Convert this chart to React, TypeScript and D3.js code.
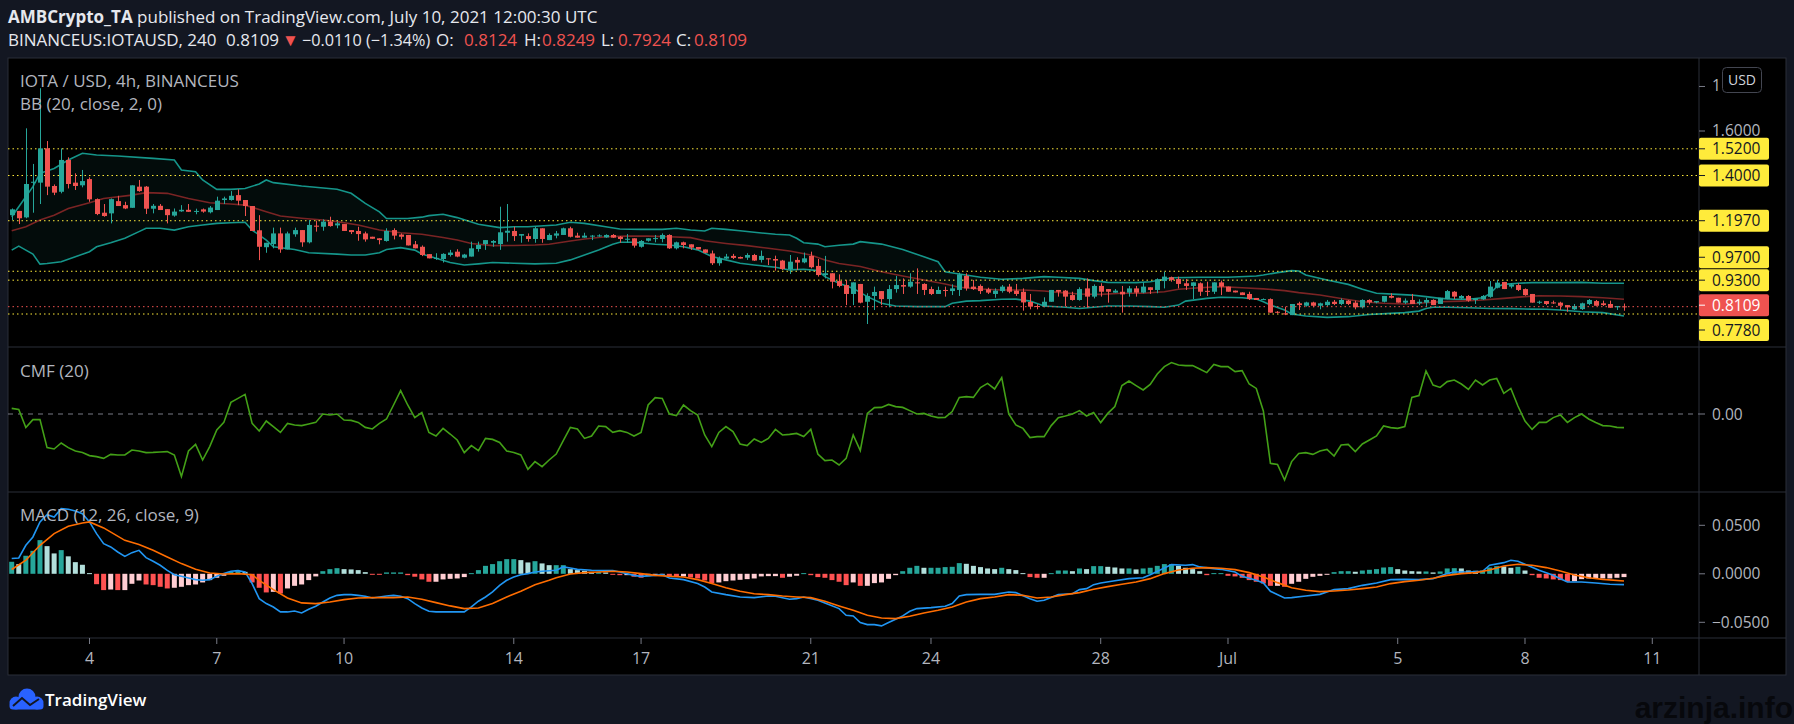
import * as d3 from 'd3';
import { useEffect, useRef } from 'react';

// IOTA/USD 4h candles (index 0 = Jun 2 04:00 UTC)
const opens = [
  1.222, 1.241, 1.212, 1.368, 1.368, 1.522, 1.353, 1.327, 1.47, 1.368,
  1.356, 1.384, 1.294, 1.233, 1.23, 1.285, 1.267, 1.255, 1.35, 1.35,
  1.251, 1.264, 1.249, 1.22, 1.239, 1.246, 1.24, 1.248, 1.235, 1.245,
  1.29, 1.29, 1.312, 1.29, 1.263, 1.154, 1.078, 1.092, 1.14, 1.068,
  1.136, 1.155, 1.1, 1.175, 1.17, 1.193, 1.176, 1.182, 1.155, 1.151,
  1.14, 1.125, 1.118, 1.106, 1.155, 1.135, 1.133, 1.091, 1.08, 1.047,
  1.028, 1.025, 1.043, 1.058, 1.031, 1.036, 1.07, 1.092, 1.098, 1.092,
  1.143, 1.151, 1.13, 1.128, 1.115, 1.163, 1.11, 1.13, 1.133, 1.163,
  1.13, 1.121, 1.128, 1.13, 1.122, 1.133, 1.125, 1.114, 1.118, 1.08,
  1.107, 1.118, 1.115, 1.133, 1.073, 1.1, 1.091, 1.079, 1.068, 1.05,
  1.006, 1.027, 1.039, 1.034, 1.031, 1.043, 1.021, 1.028, 1.025, 1.018,
  0.98, 1.021, 1.01, 1.039, 0.994, 0.953, 0.961, 0.926, 0.908, 0.868,
  0.913, 0.833, 0.859, 0.881, 0.845, 0.89, 0.908, 0.901, 0.92, 0.913,
  0.89, 0.868, 0.886, 0.881, 0.886, 0.949, 0.901, 0.904, 0.889, 0.868,
  0.881, 0.901, 0.883, 0.878, 0.832, 0.814, 0.811, 0.833, 0.886, 0.883,
  0.863, 0.841, 0.893, 0.856, 0.904, 0.89, 0.874, 0.878, 0.874, 0.893,
  0.874, 0.898, 0.886, 0.926, 0.943, 0.935, 0.916, 0.904, 0.916, 0.882,
  0.878, 0.92, 0.901, 0.883, 0.875, 0.868, 0.85, 0.841, 0.845, 0.788,
  0.781, 0.773, 0.826, 0.815, 0.83, 0.815, 0.818, 0.833, 0.823, 0.838,
  0.829, 0.808, 0.841, 0.83, 0.833, 0.859, 0.851, 0.829, 0.841, 0.826,
  0.829, 0.841, 0.823, 0.845, 0.878, 0.848, 0.859, 0.841, 0.844, 0.855,
  0.896, 0.922, 0.901, 0.908, 0.89, 0.868, 0.829, 0.836, 0.83, 0.829,
  0.818, 0.799, 0.8, 0.823, 0.836, 0.826, 0.823, 0.808, 0.8124,
];
const highs = [
  1.252, 1.241, 1.612, 1.452, 1.792, 1.555, 1.36, 1.522, 1.482, 1.41,
  1.425, 1.392, 1.297, 1.272, 1.297, 1.309, 1.282, 1.356, 1.38, 1.353,
  1.272, 1.272, 1.249, 1.252, 1.267, 1.272, 1.251, 1.252, 1.263, 1.305,
  1.305, 1.33, 1.338, 1.29, 1.263, 1.222, 1.098, 1.166, 1.166, 1.148,
  1.166, 1.155, 1.2, 1.197, 1.203, 1.215, 1.193, 1.182, 1.155, 1.17,
  1.148, 1.125, 1.118, 1.163, 1.163, 1.14, 1.133, 1.106, 1.086, 1.047,
  1.051, 1.051, 1.066, 1.069, 1.048, 1.103, 1.103, 1.11, 1.11, 1.26,
  1.272, 1.17, 1.137, 1.14, 1.17, 1.163, 1.14, 1.151, 1.166, 1.17,
  1.143, 1.143, 1.133, 1.136, 1.136, 1.137, 1.128, 1.137, 1.118, 1.11,
  1.118, 1.133, 1.14, 1.136, 1.103, 1.103, 1.091, 1.079, 1.068, 1.063,
  1.036, 1.048, 1.048, 1.036, 1.051, 1.048, 1.063, 1.028, 1.04, 1.021,
  1.043, 1.033, 1.054, 1.058, 1.025, 1.039, 0.961, 0.956, 0.931, 0.92,
  0.913, 0.871, 0.901, 0.881, 0.908, 0.949, 0.938, 0.961, 0.983, 0.916,
  0.901, 0.901, 0.901, 0.911, 0.964, 0.961, 0.931, 0.911, 0.896, 0.893,
  0.908, 0.913, 0.913, 0.893, 0.868, 0.822, 0.853, 0.886, 0.886, 0.886,
  0.878, 0.898, 0.938, 0.911, 0.916, 0.89, 0.89, 0.904, 0.904, 0.904,
  0.92, 0.898, 0.938, 0.968, 0.946, 0.946, 0.935, 0.92, 0.92, 0.923,
  0.92, 0.928, 0.901, 0.883, 0.875, 0.878, 0.85, 0.848, 0.848, 0.791,
  0.811, 0.823, 0.833, 0.833, 0.833, 0.829, 0.841, 0.841, 0.848, 0.841,
  0.838, 0.844, 0.844, 0.836, 0.859, 0.871, 0.851, 0.848, 0.868, 0.844,
  0.851, 0.844, 0.851, 0.886, 0.881, 0.863, 0.863, 0.848, 0.863, 0.926,
  0.931, 0.922, 0.916, 0.916, 0.893, 0.868, 0.838, 0.836, 0.838, 0.833,
  0.818, 0.823, 0.829, 0.845, 0.841, 0.838, 0.838, 0.814, 0.8249,
];
const lows = [
  1.2, 1.182, 1.208, 1.233, 1.272, 1.312, 1.312, 1.32, 1.342, 1.335,
  1.347, 1.282, 1.222, 1.215, 1.185, 1.263, 1.249, 1.255, 1.327, 1.227,
  1.23, 1.245, 1.185, 1.215, 1.237, 1.237, 1.226, 1.233, 1.23, 1.245,
  1.272, 1.287, 1.267, 1.218, 1.151, 1.02, 1.053, 1.073, 1.053, 1.068,
  1.125, 1.08, 1.095, 1.148, 1.152, 1.17, 1.163, 1.151, 1.137, 1.107,
  1.103, 1.116, 1.091, 1.103, 1.113, 1.113, 1.086, 1.073, 1.038, 1.028,
  1.021, 1.009, 1.036, 1.033, 1.028, 1.036, 1.058, 1.066, 1.08, 1.066,
  1.103, 1.106, 1.098, 1.103, 1.098, 1.098, 1.11, 1.118, 1.133, 1.122,
  1.121, 1.121, 1.11, 1.125, 1.12, 1.12, 1.098, 1.098, 1.076, 1.076,
  1.103, 1.1, 1.1, 1.07, 1.068, 1.073, 1.066, 1.068, 1.051, 0.998,
  0.995, 1.025, 1.025, 1.027, 1.021, 1.016, 1.009, 0.998, 0.973, 0.976,
  0.958, 0.976, 1.006, 0.983, 0.946, 0.938, 0.893, 0.898, 0.818, 0.818,
  0.826, 0.733, 0.796, 0.818, 0.808, 0.874, 0.868, 0.896, 0.868, 0.863,
  0.863, 0.868, 0.856, 0.863, 0.859, 0.883, 0.886, 0.868, 0.868, 0.851,
  0.874, 0.871, 0.859, 0.793, 0.799, 0.799, 0.808, 0.833, 0.856, 0.814,
  0.838, 0.838, 0.806, 0.848, 0.856, 0.829, 0.874, 0.784, 0.856, 0.856,
  0.871, 0.868, 0.871, 0.893, 0.923, 0.893, 0.886, 0.845, 0.859, 0.859,
  0.868, 0.863, 0.878, 0.875, 0.863, 0.841, 0.841, 0.841, 0.784, 0.781,
  0.773, 0.773, 0.796, 0.811, 0.808, 0.799, 0.814, 0.818, 0.818, 0.818,
  0.799, 0.803, 0.821, 0.826, 0.83, 0.848, 0.829, 0.823, 0.823, 0.818,
  0.811, 0.818, 0.823, 0.844, 0.845, 0.844, 0.833, 0.823, 0.841, 0.851,
  0.893, 0.89, 0.893, 0.881, 0.86, 0.829, 0.823, 0.818, 0.823, 0.796,
  0.788, 0.796, 0.796, 0.818, 0.815, 0.814, 0.806, 0.796, 0.7924,
];
const closes = [
  1.248, 1.208, 1.362, 1.372, 1.522, 1.35, 1.323, 1.47, 1.362, 1.353,
  1.375, 1.293, 1.227, 1.218, 1.294, 1.263, 1.252, 1.356, 1.33, 1.251,
  1.264, 1.245, 1.222, 1.238, 1.246, 1.237, 1.241, 1.238, 1.256, 1.287,
  1.297, 1.309, 1.287, 1.263, 1.151, 1.08, 1.098, 1.14, 1.068, 1.14,
  1.155, 1.1, 1.178, 1.17, 1.193, 1.173, 1.185, 1.151, 1.146, 1.137,
  1.113, 1.116, 1.11, 1.151, 1.13, 1.125, 1.086, 1.073, 1.043, 1.028,
  1.03, 1.048, 1.054, 1.036, 1.045, 1.073, 1.088, 1.11, 1.106, 1.145,
  1.152, 1.128, 1.137, 1.115, 1.163, 1.115, 1.133, 1.14, 1.163, 1.125,
  1.121, 1.13, 1.13, 1.131, 1.133, 1.121, 1.115, 1.116, 1.085, 1.106,
  1.118, 1.119, 1.133, 1.073, 1.1, 1.088, 1.076, 1.068, 1.053, 1.006,
  1.028, 1.036, 1.03, 1.027, 1.043, 1.018, 1.039, 1.027, 1.018, 0.98,
  1.013, 1.009, 1.028, 0.988, 0.953, 0.961, 0.923, 0.904, 0.868, 0.92,
  0.829, 0.859, 0.877, 0.845, 0.89, 0.908, 0.901, 0.923, 0.916, 0.886,
  0.868, 0.886, 0.884, 0.893, 0.956, 0.893, 0.89, 0.881, 0.874, 0.883,
  0.901, 0.878, 0.868, 0.83, 0.811, 0.811, 0.833, 0.886, 0.878, 0.856,
  0.841, 0.89, 0.856, 0.904, 0.878, 0.878, 0.883, 0.866, 0.893, 0.874,
  0.901, 0.886, 0.934, 0.946, 0.931, 0.913, 0.904, 0.92, 0.878, 0.881,
  0.92, 0.901, 0.878, 0.875, 0.863, 0.845, 0.841, 0.845, 0.784, 0.784,
  0.776, 0.823, 0.818, 0.83, 0.815, 0.826, 0.833, 0.823, 0.841, 0.823,
  0.808, 0.841, 0.83, 0.836, 0.859, 0.851, 0.829, 0.838, 0.823, 0.833,
  0.841, 0.818, 0.851, 0.881, 0.856, 0.859, 0.838, 0.848, 0.859, 0.901,
  0.919, 0.89, 0.911, 0.886, 0.863, 0.829, 0.833, 0.823, 0.829, 0.815,
  0.808, 0.814, 0.826, 0.841, 0.815, 0.818, 0.806, 0.814, 0.8109,
];

// Bollinger bands [candle index, price]
const bbUpper: [number, number][] = [
  [0, 1.215], [1, 1.26], [3, 1.35], [4, 1.41], [6, 1.432], [8, 1.47], [10, 1.5], [12, 1.492],
  [15, 1.488], [20, 1.477], [23, 1.47], [24, 1.425], [26, 1.417], [27, 1.38], [29, 1.338],
  [31, 1.338], [33, 1.342], [35, 1.362], [36, 1.38], [37, 1.368], [41, 1.353], [46, 1.338],
  [48, 1.32], [50, 1.275], [52, 1.237], [53, 1.207], [56, 1.207], [58, 1.213], [59, 1.22],
  [61, 1.226], [63, 1.211], [66, 1.181], [69, 1.166], [71, 1.17], [73, 1.17], [77, 1.178],
  [79, 1.19], [81, 1.185], [84, 1.17], [86, 1.16], [89, 1.158], [92, 1.158], [94, 1.163],
  [96, 1.155], [98, 1.151], [99, 1.163], [101, 1.158], [103, 1.152], [105, 1.145], [108, 1.136],
  [110, 1.133], [111, 1.118], [112, 1.098], [114, 1.092], [115, 1.08], [117, 1.087], [119, 1.092],
  [120, 1.103], [123, 1.092], [126, 1.068], [129, 1.035], [131, 1.013], [132, 0.968], [134, 0.958],
  [137, 0.943], [140, 0.934], [143, 0.938], [146, 0.946], [148, 0.943], [151, 0.938], [153, 0.928],
  [155, 0.92], [159, 0.919], [161, 0.923], [163, 0.934], [164, 0.941], [168, 0.943], [172, 0.943],
  [176, 0.949], [177, 0.953], [179, 0.964], [181, 0.973], [182, 0.971], [183, 0.953], [186, 0.931],
  [189, 0.911], [191, 0.889], [193, 0.871], [196, 0.866], [198, 0.863], [200, 0.856], [202, 0.848],
  [204, 0.844], [206, 0.844], [208, 0.851], [209, 0.868], [210, 0.901], [211, 0.911], [213, 0.916],
  [215, 0.919], [219, 0.919], [222, 0.92], [225, 0.916], [228, 0.916],
];
const bbBasis: [number, number][] = [
  [0, 1.152], [2, 1.17], [4, 1.2], [6, 1.222], [8, 1.252], [11, 1.278], [13, 1.297], [17, 1.312],
  [19, 1.323], [22, 1.32], [25, 1.297], [28, 1.278], [31, 1.272], [33, 1.267], [36, 1.237],
  [38, 1.218], [41, 1.208], [44, 1.2], [46, 1.193], [49, 1.178], [52, 1.155], [55, 1.143],
  [58, 1.136], [61, 1.122], [63, 1.11], [65, 1.095], [68, 1.085], [71, 1.086], [74, 1.088],
  [76, 1.091], [79, 1.106], [81, 1.115], [84, 1.125], [87, 1.128], [90, 1.128], [93, 1.125],
  [96, 1.121], [98, 1.107], [101, 1.095], [104, 1.085], [107, 1.073], [110, 1.061], [113, 1.043],
  [115, 1.021], [117, 1.005], [120, 0.991], [123, 0.968], [126, 0.949], [129, 0.931], [132, 0.913],
  [134, 0.898], [137, 0.89], [140, 0.886], [143, 0.886], [146, 0.881], [148, 0.875], [151, 0.868],
  [154, 0.866], [157, 0.871], [160, 0.871], [163, 0.878], [165, 0.889], [168, 0.896], [171, 0.901],
  [174, 0.896], [177, 0.891], [180, 0.883], [182, 0.874], [185, 0.863], [188, 0.848], [191, 0.833],
  [194, 0.826], [197, 0.823], [199, 0.826], [202, 0.833], [205, 0.836], [208, 0.841], [211, 0.848],
  [214, 0.856], [216, 0.86], [219, 0.859], [222, 0.856], [225, 0.851], [228, 0.844],
];
const bbLower: [number, number][] = [
  [0, 1.065], [1, 1.083], [2, 1.065], [3, 1.047], [4, 1.002], [5, 1.005], [7, 1.013], [9, 1.035],
  [11, 1.058], [12, 1.08], [14, 1.098], [16, 1.118], [18, 1.148], [19, 1.163], [21, 1.163],
  [23, 1.155], [25, 1.17], [27, 1.178], [29, 1.185], [31, 1.188], [33, 1.19], [34, 1.155],
  [36, 1.11], [37, 1.08], [40, 1.068], [42, 1.053], [46, 1.047], [48, 1.043], [50, 1.043],
  [52, 1.053], [53, 1.068], [55, 1.076], [57, 1.065], [58, 1.048], [60, 1.028], [62, 1.009],
  [64, 0.998], [66, 1.003], [68, 1.009], [71, 1.006], [74, 1.003], [77, 1.006], [79, 1.021],
  [81, 1.043], [83, 1.066], [85, 1.091], [86, 1.1], [88, 1.1], [91, 1.091], [93, 1.088],
  [95, 1.08], [97, 1.066], [99, 1.036], [101, 1.021], [103, 1.006], [105, 0.998], [108, 0.988],
  [110, 0.976], [112, 0.979], [114, 0.973], [115, 0.946], [117, 0.916], [119, 0.893], [121, 0.856],
  [123, 0.826], [125, 0.814], [128, 0.811], [132, 0.811], [133, 0.826], [135, 0.836], [137, 0.838],
  [140, 0.844], [142, 0.845], [144, 0.836], [146, 0.814], [149, 0.808], [151, 0.803], [153, 0.808],
  [155, 0.814], [158, 0.814], [161, 0.811], [163, 0.808], [165, 0.818], [166, 0.836], [169, 0.848],
  [171, 0.853], [174, 0.851], [176, 0.845], [177, 0.833], [178, 0.818], [180, 0.796], [181, 0.778],
  [183, 0.769], [186, 0.763], [189, 0.766], [192, 0.776], [195, 0.781], [197, 0.784], [199, 0.791],
  [200, 0.803], [201, 0.808], [203, 0.808], [206, 0.806], [209, 0.803], [212, 0.802], [215, 0.8],
  [217, 0.799], [219, 0.796], [222, 0.788], [225, 0.784], [228, 0.769],
];

// Chaikin money flow, one value per candle
const cmfValues = [
  0.028, 0.023, -0.068, -0.028, -0.028, -0.168, -0.175, -0.145, -0.168, -0.185,
  -0.192, -0.208, -0.213, -0.222, -0.202, -0.205, -0.205, -0.18, -0.185, -0.193,
  -0.192, -0.19, -0.188, -0.205, -0.313, -0.185, -0.152, -0.23, -0.163, -0.08,
  -0.042, 0.058, 0.078, 0.098, -0.047, -0.085, -0.035, -0.063, -0.092, -0.047,
  -0.055, -0.058, -0.05, -0.042, 0.0, -0.005, 0.0, -0.03, -0.032, -0.042,
  -0.067, -0.075, -0.047, -0.025, 0.045, 0.117, 0.045, -0.018, 0.007, -0.092,
  -0.11, -0.072, -0.1, -0.13, -0.193, -0.158, -0.183, -0.122, -0.127, -0.142,
  -0.185, -0.192, -0.205, -0.277, -0.238, -0.263, -0.23, -0.2, -0.133, -0.067,
  -0.075, -0.122, -0.11, -0.06, -0.063, -0.092, -0.083, -0.092, -0.11, -0.092,
  0.045, 0.082, 0.078, 0.0, -0.008, 0.045, 0.017, -0.005, -0.105, -0.163,
  -0.092, -0.063, -0.088, -0.15, -0.158, -0.125, -0.142, -0.122, -0.077, -0.105,
  -0.102, -0.097, -0.113, -0.077, -0.2, -0.233, -0.23, -0.255, -0.222, -0.105,
  -0.183, 0.003, 0.032, 0.033, 0.048, 0.037, 0.033, 0.017, 0.0, 0.003,
  -0.01, -0.018, -0.017, 0.012, 0.083, 0.087, 0.083, 0.132, 0.153, 0.125,
  0.182, 0.0, -0.055, -0.072, -0.118, -0.113, -0.113, -0.058, -0.018, -0.01,
  0.0, 0.017, -0.01, 0.007, -0.043, 0.003, 0.037, 0.142, 0.165, 0.142,
  0.12, 0.148, 0.2, 0.237, 0.257, 0.245, 0.242, 0.242, 0.225, 0.207,
  0.248, 0.237, 0.237, 0.212, 0.217, 0.15, 0.128, 0.015, -0.247, -0.252,
  -0.33, -0.238, -0.197, -0.193, -0.202, -0.185, -0.177, -0.21, -0.155, -0.152,
  -0.188, -0.15, -0.13, -0.11, -0.06, -0.068, -0.072, -0.063, 0.083, 0.092,
  0.215, 0.145, 0.133, 0.162, 0.17, 0.15, 0.123, 0.17, 0.145, 0.17,
  0.178, 0.103, 0.128, 0.04, -0.035, -0.077, -0.042, -0.042, -0.018, -0.005,
  -0.042, -0.018, 0.0, -0.025, -0.042, -0.058, -0.06, -0.067, -0.068,
];

// MACD line and signal [candle index, value]
const macdLine: [number, number][] = [
  [0, 0.0157], [1, 0.0163], [2, 0.0294], [3, 0.038], [4, 0.0535], [5, 0.061], [6, 0.0586],
  [7, 0.0672], [8, 0.0665], [9, 0.0648], [10, 0.062], [11, 0.0535], [12, 0.0414], [13, 0.0311],
  [14, 0.0277], [15, 0.0225], [16, 0.018], [17, 0.0218], [18, 0.0242], [19, 0.0167], [20, 0.0129],
  [21, 0.0088], [22, 0.0036], [23, -0.0009], [24, -0.0026], [25, -0.0043], [26, -0.006],
  [27, -0.0067], [28, -0.006], [29, -0.0026], [30, 0.0002], [31, 0.0026], [32, 0.0033],
  [33, 0.0019], [34, -0.0101], [35, -0.0256], [36, -0.0307], [37, -0.0342], [38, -0.0393],
  [39, -0.0393], [40, -0.0383], [41, -0.0404], [42, -0.0366], [43, -0.0335], [44, -0.0291],
  [45, -0.0249], [46, -0.0222], [47, -0.0215], [48, -0.0215], [49, -0.0222], [50, -0.0232],
  [51, -0.0249], [52, -0.0239], [53, -0.0229], [54, -0.0222], [55, -0.0232], [56, -0.0256],
  [57, -0.0307], [58, -0.0352], [59, -0.0386], [60, -0.0393], [62, -0.0393], [64, -0.0393],
  [65, -0.0342], [66, -0.0283], [67, -0.0239], [68, -0.0187], [69, -0.0119], [70, -0.0067],
  [71, -0.0033], [72, -0.0009], [73, 0.0002], [74, 0.0019], [75, 0.0026], [77, 0.0036],
  [78, 0.0071], [79, 0.006], [80, 0.0046], [82, 0.0036], [85, 0.0033], [86, 0.0019],
  [88, -0.0016], [89, -0.0026], [91, -0.0016], [92, -0.0009], [93, -0.0043], [95, -0.006],
  [97, -0.0101], [98, -0.0136], [99, -0.0187], [101, -0.0215], [103, -0.0239], [105, -0.0246],
  [107, -0.0229], [108, -0.0232], [110, -0.0263], [111, -0.0256], [112, -0.0239], [114, -0.0273],
  [115, -0.03], [117, -0.0359], [118, -0.0427], [119, -0.0434], [120, -0.0503], [121, -0.0524],
  [122, -0.0524], [123, -0.0537], [124, -0.0503], [125, -0.0468], [126, -0.0434], [127, -0.0386],
  [128, -0.0359], [130, -0.0349], [132, -0.0335], [133, -0.0307], [134, -0.0229], [135, -0.0215],
  [137, -0.0212], [139, -0.0212], [141, -0.0187], [142, -0.0194], [144, -0.0256], [145, -0.0283],
  [146, -0.0273], [148, -0.0215], [150, -0.0205], [151, -0.0163], [152, -0.0153], [153, -0.0112],
  [154, -0.0095], [156, -0.0071], [158, -0.005], [160, -0.004], [161, -0.0009], [163, 0.006],
  [164, 0.0095], [166, 0.0088], [167, 0.0095], [168, 0.0071], [170, 0.0053], [171, 0.0046],
  [173, 0.0019], [174, -0.0026], [176, -0.0067], [177, -0.0095], [178, -0.018], [180, -0.0249],
  [181, -0.0246], [183, -0.0229], [185, -0.0212], [187, -0.0163], [189, -0.0153], [191, -0.0119],
  [193, -0.0095], [195, -0.006], [197, -0.0057], [199, -0.006], [201, -0.005], [203, 0.0002],
  [204, 0.0019], [206, 0.0019], [208, 0.0026], [209, 0.0088], [211, 0.0115], [212, 0.0139],
  [213, 0.0129], [214, 0.0098], [216, 0.0036], [218, -0.0016], [219, -0.005], [220, -0.0084],
  [222, -0.0084], [224, -0.0095], [226, -0.0108], [228, -0.0112],
];
const signalLine: [number, number][] = [
  [0, 0.0044], [2, 0.014], [4, 0.0294], [6, 0.0414], [8, 0.049], [10, 0.0524], [11, 0.0535],
  [13, 0.0473], [16, 0.0345], [18, 0.0301], [20, 0.0242], [22, 0.0173], [24, 0.0105], [26, 0.0046],
  [28, 0.0009], [30, -0.0002], [32, 0.0002], [34, -0.0009], [35, -0.0067], [37, -0.0163],
  [39, -0.0249], [41, -0.03], [43, -0.0307], [45, -0.0291], [47, -0.0266], [49, -0.0249],
  [51, -0.0246], [54, -0.0246], [56, -0.0239], [58, -0.0263], [60, -0.0297], [62, -0.0331],
  [64, -0.0359], [66, -0.0352], [68, -0.0307], [70, -0.0239], [72, -0.018], [74, -0.0112],
  [76, -0.0067], [77, -0.004], [79, -0.0002], [81, 0.0012], [83, 0.0019], [85, 0.0026],
  [87, 0.0019], [89, 0.0002], [91, -0.0016], [93, -0.0026], [95, -0.0033], [97, -0.006],
  [99, -0.0101], [101, -0.0143], [103, -0.018], [105, -0.0205], [107, -0.0215], [109, -0.0229],
  [111, -0.0239], [113, -0.0246], [115, -0.0283], [117, -0.0331], [119, -0.0376], [121, -0.0427],
  [123, -0.0455], [125, -0.0462], [127, -0.0438], [129, -0.0404], [131, -0.0376], [133, -0.0342],
  [135, -0.0291], [137, -0.0256], [139, -0.0239], [141, -0.0215], [143, -0.0222], [145, -0.0249],
  [147, -0.0239], [149, -0.0215], [151, -0.0194], [153, -0.016], [155, -0.0132], [157, -0.0108],
  [159, -0.0084], [161, -0.005], [163, 0.0002], [165, 0.004], [167, 0.0057], [169, 0.0064],
  [171, 0.0057], [173, 0.0043], [175, 0.0012], [177, -0.0033], [179, -0.0091], [181, -0.0143],
  [183, -0.017], [185, -0.0184], [187, -0.0177], [189, -0.0167], [191, -0.0153], [193, -0.0136],
  [195, -0.0101], [197, -0.0081], [199, -0.0067], [201, -0.0046], [203, -0.0016], [205, 0.0002],
  [207, 0.0012], [209, 0.004], [211, 0.0081], [213, 0.0098], [215, 0.0088], [217, 0.0064],
  [219, 0.0029], [221, -0.0012], [223, -0.004], [225, -0.0057], [228, -0.0074],
];
// MACD histogram, one bar per candle
const histValues = [
  0.0124, 0.01, 0.0186, 0.0237, 0.0347, 0.0285, 0.021, 0.0244, 0.018, 0.012,
  0.0093, 0.0007, -0.0107, -0.0168, -0.0162, -0.0168, -0.0168, -0.0103, -0.0069, -0.011,
  -0.0117, -0.0134, -0.0151, -0.0144, -0.0134, -0.0117, -0.011, -0.0089, -0.0065, -0.0041,
  -0.002, 0.002, 0.0027, 0.002, -0.0089, -0.0144, -0.0192, -0.0186, -0.0203, -0.0151,
  -0.0124, -0.011, -0.0065, -0.0027, 0.0027, 0.0048, 0.0058, 0.0048, 0.0045, 0.0038,
  0.0017, -0.0007, -0.001, 0.0014, 0.0014, 0.0014, -0.0014, -0.003, -0.0058, -0.0082,
  -0.0082, -0.0058, -0.0052, -0.0048, -0.0034, 0.0007, 0.0038, 0.0082, 0.01, 0.013,
  0.0151, 0.0151, 0.0141, 0.0117, 0.013, 0.0107, 0.0089, 0.0089, 0.0089, 0.0048,
  0.0038, 0.0031, 0.002, 0.002, 0.0014, -0.0007, -0.0014, -0.0014, -0.003, -0.004,
  -0.0024, -0.0014, -0.0007, -0.0024, -0.0034, -0.0027, -0.0038, -0.0048, -0.0069, -0.0096,
  -0.0089, -0.0076, -0.0069, -0.0062, -0.0055, -0.0048, -0.0027, -0.0024, -0.0024, -0.0041,
  -0.003, -0.002, 0.0007, -0.0014, -0.0034, -0.0041, -0.0065, -0.0082, -0.0117, -0.0089,
  -0.0124, -0.0124, -0.0096, -0.0089, -0.0052, -0.0014, 0.0027, 0.0062, 0.0082, 0.0062,
  0.0062, 0.0062, 0.0069, 0.0072, 0.011, 0.0103, 0.0082, 0.0069, 0.0055, 0.0048,
  0.0062, 0.0048, 0.0038, 0.0007, -0.0034, -0.0041, -0.0041, 0.0007, 0.0034, 0.0034,
  0.0027, 0.0055, 0.0048, 0.0079, 0.0079, 0.0072, 0.0065, 0.0055, 0.0055, 0.0045,
  0.0055, 0.0062, 0.0082, 0.01, 0.01, 0.0082, 0.0062, 0.0048, 0.0027, -0.0014,
  0.0007, 0.0007, -0.0021, -0.0027, -0.0041, -0.0065, -0.0082, -0.01, -0.0124, -0.0124,
  -0.0134, -0.0103, -0.0082, -0.0052, -0.0031, -0.0021, -0.0007, 0.0017, 0.0027, 0.0027,
  0.0021, 0.0034, 0.0041, 0.0048, 0.0065, 0.0069, 0.0048, 0.0034, 0.0027, 0.0024,
  0.0024, 0.0014, 0.0024, 0.0055, 0.0058, 0.0055, 0.0034, 0.0031, 0.0034, 0.0065,
  0.0079, 0.0076, 0.0062, 0.0072, 0.0034, -0.0014, -0.0041, -0.0048, -0.0058, -0.0065,
  -0.0082, -0.0076, -0.0055, -0.0048, -0.0048, -0.0048, -0.0048, -0.0041, -0.0034,
];

// horizontal levels drawn on the chart, and the price-scale ticks
const levelPrices = [1.52, 1.4, 1.197, 0.97, 0.93, 0.778];
const levelLabels = ['1.5200', '1.4000', '1.1970', '0.9700', '0.9300', '0.7780'];
const lastPrice = 0.8109;
const priceTicks = [1.8, 1.6];
const priceTickLabels = ['1.8000', '1.6000'];
const macdTicks = [0.05, 0, -0.05];
const macdTickLabels = ['0.0500', '0.0000', '\u22120.0500'];
// date axis: label and candle index of midnight
const dayLabels = ['4', '7', '10', '14', '17', '21', '24', '28', 'Jul', '5', '8', '11'];
const dayIndex = [11, 29, 47, 71, 89, 113, 130, 154, 172, 196, 214, 232];

const W = 1794;
const H = 724;
const FONT = '"Open Sans", "Liberation Sans", Arial, sans-serif';
const UP = '#26A69A';
const DOWN = '#EF5350';
const AXIS_TEXT = '#B2B5BE';
const HEAD_TEXT = '#E6E8EE';
const GRID = '#2A2E39';

export default function App() {
  const svgRef = useRef<SVGSVGElement | null>(null);

  useEffect(() => {
    if (!svgRef.current) return;
    const svg = d3.select(svgRef.current);
    svg.selectAll('*').remove();

    const left = 8;
    const plotRight = 1699;
    const right = 1786;
    const top = 58;
    const priceBottom = 347;
    const cmfBottom = 492;
    const macdBottom = 638;
    const bottom = 675;

    const x = d3.scaleLinear().domain([0, 228]).range([11.7, 1624]);
    const yPrice = d3.scaleLinear().domain([0.778, 1.6]).range([314, 131]);
    const yCmf = d3.scaleLinear().domain([-0.3, 0.3]).range([474, 354]);
    const yMacd = d3.scaleLinear().domain([-0.05, 0.05]).range([622.3, 525.3]);

    // Fondo
    svg.append('rect').attr('width', W).attr('height', H).attr('fill', '#131722');
    svg
      .append('rect')
      .attr('x', left)
      .attr('y', top)
      .attr('width', right - left)
      .attr('height', bottom - top)
      .attr('fill', '#000')
      .attr('stroke', GRID);

    const defs = svg.append('defs');
    const clip = (id: string, y0: number, y1: number) => {
      defs
        .append('clipPath')
        .attr('id', id)
        .append('rect')
        .attr('x', left)
        .attr('y', y0)
        .attr('width', plotRight - left)
        .attr('height', y1 - y0);
      return svg.append('g').attr('clip-path', `url(#${id})`);
    };

    [priceBottom, cmfBottom, macdBottom].forEach((yy) => {
      svg
        .append('line')
        .attr('x1', left)
        .attr('x2', right)
        .attr('y1', yy)
        .attr('y2', yy)
        .attr('stroke', GRID);
    });
    svg
      .append('line')
      .attr('x1', plotRight)
      .attr('x2', plotRight)
      .attr('y1', top)
      .attr('y2', bottom)
      .attr('stroke', GRID);

    /* -- Panel de precio ---------------------------------------------------------------- */
    const pg = clip('clip-price', top, priceBottom);
    const line = d3.line<[number, number]>();
    const toPts = (arr: [number, number][], ys: d3.ScaleLinear<number, number>) =>
      arr.map(([i, v]) => [x(i), ys(v)] as [number, number]);

    const bandPts = [...toPts(bbUpper, yPrice), ...toPts(bbLower, yPrice).reverse()];
    pg.append('path').attr('d', line(bandPts) + 'Z').attr('fill', 'rgba(38,166,154,0.07)');
    [
      [bbUpper, '#15958A'],
      [bbLower, '#15958A'],
      [bbBasis, '#7A2424'],
    ].forEach(([arr, color]) => {
      pg.append('path')
        .attr('d', line(toPts(arr as [number, number][], yPrice)))
        .attr('fill', 'none')
        .attr('stroke', color as string)
        .attr('stroke-width', 1.6);
    });

    levelPrices.forEach((p) => {
      pg.append('line')
        .attr('x1', left)
        .attr('x2', plotRight)
        .attr('y1', yPrice(p))
        .attr('y2', yPrice(p))
        .attr('stroke', '#FFEB3B')
        .attr('stroke-width', 1)
        .attr('stroke-dasharray', '1.5,3');
    });

    closes.forEach((c, i) => {
      const o = opens[i];
      const col = c >= o ? UP : DOWN;
      const cx = Math.round(x(i)) + 0.5;
      pg.append('line')
        .attr('x1', cx)
        .attr('x2', cx)
        .attr('y1', yPrice(highs[i]))
        .attr('y2', yPrice(lows[i]))
        .attr('stroke', col)
        .attr('stroke-width', 1);
      const y0 = yPrice(Math.max(o, c));
      const y1 = yPrice(Math.min(o, c));
      pg.append('rect')
        .attr('x', cx - 2.5)
        .attr('y', y0)
        .attr('width', 5)
        .attr('height', Math.max(1, y1 - y0))
        .attr('fill', col);
    });

    pg.append('line')
      .attr('x1', left)
      .attr('x2', plotRight)
      .attr('y1', yPrice(lastPrice))
      .attr('y2', yPrice(lastPrice))
      .attr('stroke', DOWN)
      .attr('stroke-dasharray', '1.5,3');

    const label = (txt: string, xx: number, yy: number, size = 15.5, color = AXIS_TEXT) =>
      svg
        .append('text')
        .attr('x', xx)
        .attr('y', yy)
        .attr('font-family', FONT)
        .attr('font-size', size)
        .attr('fill', color)
        .text(txt);

    label('IOTA / USD, 4h, BINANCEUS', 20, 87, 17);
    label('BB (20, close, 2, 0)', 20, 110, 17);

    // Escala de precio
    const tick = (yy: number, color = '#787B86') =>
      svg
        .append('line')
        .attr('x1', plotRight)
        .attr('x2', plotRight + 6)
        .attr('y1', yy)
        .attr('y2', yy)
        .attr('stroke', color);

    // the USD button hides most of the top tick label
    defs
      .append('clipPath')
      .attr('id', 'clip-axis-top')
      .append('rect')
      .attr('x', plotRight)
      .attr('y', top)
      .attr('width', 22)
      .attr('height', 40);
    priceTicks.forEach((p, k) => {
      tick(yPrice(p));
      const t = label(priceTickLabels[k], 1712, yPrice(p) + 4.5);
      if (k === 0) t.attr('clip-path', 'url(#clip-axis-top)');
    });
    svg
      .append('rect')
      .attr('x', 1722.5)
      .attr('y', 67.5)
      .attr('width', 39)
      .attr('height', 25)
      .attr('rx', 4)
      .attr('fill', '#000')
      .attr('stroke', '#434651');
    label('USD', 1742, 85, 14, '#D1D4DC').attr('text-anchor', 'middle');

    const labelNudge = [0, 0, 0, -14, 0, 16];
    const priceBox = (txt: string, yy: number, fill: string, color: string) => {
      svg
        .append('rect')
        .attr('x', plotRight)
        .attr('y', yy - 11)
        .attr('width', 70)
        .attr('height', 22)
        .attr('rx', 2)
        .attr('fill', fill);
      tick(yy, color);
      label(txt, 1712, yy + 5.5, 15.5, color);
    };
    levelPrices.forEach((p, k) => {
      priceBox(levelLabels[k], yPrice(p) + labelNudge[k], '#FFEB3B', '#131722');
    });
    priceBox(lastPrice.toFixed(4), yPrice(lastPrice) - 1.5, DOWN, '#FFFFFF');

    /* -- CMF ---------------------------------------------------------------------------- */
    const cg = clip('clip-cmf', priceBottom, cmfBottom);
    cg.append('line')
      .attr('x1', left)
      .attr('x2', plotRight)
      .attr('y1', yCmf(0))
      .attr('y2', yCmf(0))
      .attr('stroke', '#787B86')
      .attr('stroke-dasharray', '5,5');
    cg.append('path')
      .attr('d', line(cmfValues.map((v, i) => [x(i), yCmf(v)] as [number, number])))
      .attr('fill', 'none')
      .attr('stroke', '#43A017')
      .attr('stroke-width', 1.6);
    label('CMF (20)', 20, 377, 17);
    tick(yCmf(0));
    label('0.00', 1712, yCmf(0) + 5.5);

    /* -- MACD --------------------------------------------------------------------------- */
    const mg = clip('clip-macd', cmfBottom, macdBottom);
    histValues.forEach((h, i) => {
      const prev = i > 0 ? histValues[i - 1] : h;
      const col =
        h >= 0 ? (h >= prev ? UP : '#B2DFDB') : h < prev ? '#FF5252' : '#FFCDD2';
      const y0 = yMacd(Math.max(0, h));
      const y1 = yMacd(Math.min(0, h));
      mg.append('rect')
        .attr('x', x(i) - 2.5)
        .attr('y', y0)
        .attr('width', 5)
        .attr('height', Math.max(1, y1 - y0))
        .attr('fill', col);
    });
    mg.append('path')
      .attr('d', line(toPts(macdLine, yMacd)))
      .attr('fill', 'none')
      .attr('stroke', '#2196F3')
      .attr('stroke-width', 1.6);
    mg.append('path')
      .attr('d', line(toPts(signalLine, yMacd)))
      .attr('fill', 'none')
      .attr('stroke', '#FF6D00')
      .attr('stroke-width', 1.6);
    label('MACD (12, 26, close, 9)', 20, 521, 17);
    macdTicks.forEach((v, k) => {
      tick(yMacd(v));
      label(macdTickLabels[k], 1712, yMacd(v) + 5.5);
    });

    /* -- Eje temporal ------------------------------------------------------------------- */
    dayIndex.forEach((d, k) => {
      svg
        .append('line')
        .attr('x1', x(d))
        .attr('x2', x(d))
        .attr('y1', macdBottom)
        .attr('y2', macdBottom + 6)
        .attr('stroke', '#787B86');
      label(dayLabels[k], x(d), 664, 16).attr('text-anchor', 'middle');
    });

    /* -- Cabecera ----------------------------------------------------------------------- */
    const h1 = svg
      .append('text')
      .attr('x', 8)
      .attr('y', 22.5)
      .attr('font-family', FONT)
      .attr('font-size', 17)
      .attr('fill', HEAD_TEXT);
    h1.append('tspan').attr('font-weight', 700).text('AMBCrypto_TA');
    h1.append('tspan').text(' published on TradingView.com, July 10, 2021 12:00:30 UTC');

    const parts: [string, number, string, number][] = [
      ['BINANCEUS:IOTAUSD, 240', 8, HEAD_TEXT, 17],
      ['0.8109', 226, HEAD_TEXT, 17],
      ['\u25BC', 282, DOWN, 17],
      ['\u22120.0110 (\u22121.34%)', 302, HEAD_TEXT, 16.2],
      ['O:', 436, HEAD_TEXT, 17],
      ['0.8124', 464, DOWN, 17],
      ['H:', 524, HEAD_TEXT, 17],
      ['0.8249', 542, DOWN, 17],
      ['L:', 601, HEAD_TEXT, 17],
      ['0.7924', 618, DOWN, 17],
      ['C:', 676, HEAD_TEXT, 17],
      ['0.8109', 694, DOWN, 17],
    ];
    parts.forEach(([t, xx, c, fs]) => label(t, xx, 45.5, fs, c));

    /* -- Pie ---------------------------------------------------------------------------- */
    const logo = svg.append('g').attr('fill', '#2962FF');
    logo.append('circle').attr('cx', 16).attr('cy', 703).attr('r', 6.5);
    logo.append('circle').attr('cx', 27).attr('cy', 697).attr('r', 8.5);
    logo.append('circle').attr('cx', 37).attr('cy', 703).attr('r', 6.5);
    logo.append('rect').attr('x', 9.5).attr('y', 702).attr('width', 34).attr('height', 7.5).attr('rx', 3.5);
    svg
      .append('polyline')
      .attr('points', '13,706 22,698 30,705 39,699')
      .attr('fill', 'none')
      .attr('stroke', '#131722')
      .attr('stroke-width', 2);
    label('TradingView', 45, 706, 17, '#FFFFFF').attr('font-weight', 600);

    svg
      .append('text')
      .attr('x', 1793)
      .attr('y', 718)
      .attr('text-anchor', 'end')
      .attr('font-family', '"Liberation Sans", Arial, sans-serif')
      .attr('font-weight', 700)
      .attr('font-size', 30)
      .attr('fill', '#07080c')
      .text('arzinja.info');
  }, []);

  return (
    <div style={{ position: 'absolute', left: 0, top: 0 }}>
      <svg ref={svgRef} width={W} height={H} style={{ display: 'block' }} />
    </div>
  );
}
